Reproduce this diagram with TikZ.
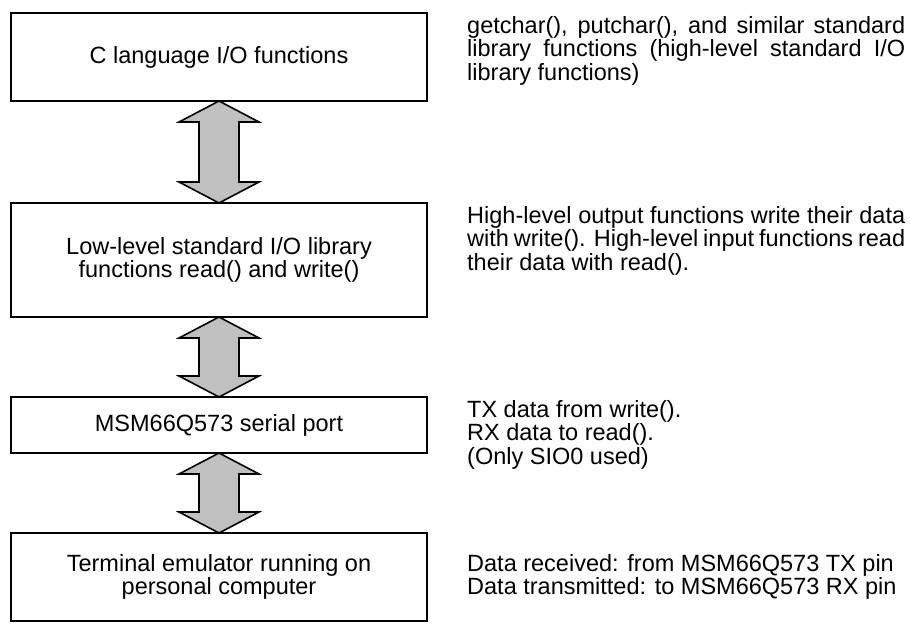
\documentclass[tikz,border=0pt]{standalone}
\usepackage{fontspec}
\setmainfont{Liberation Sans}
\usetikzlibrary{positioning,calc}
\definecolor{arrowgray}{RGB}{192,192,192}
\tikzset{
  layer/.style={draw, line width=1.8pt, minimum width=416pt, align=center, inner sep=0pt, outer sep=0pt},
  note/.style={text width=438pt, align=justify, inner sep=0pt},
  biarrow/.style={draw, line width=1.6pt, fill=arrowgray, line join=miter},
}
\begin{document}
\begin{tikzpicture}[x=1pt, y=-1pt, font=\fontsize{23.5}{23.5}\selectfont]
\useasboundingbox (0,0) rectangle (910,624);
% layers
\node[layer, minimum height=88pt] (clib) at (219,57) {C language I/O functions};
\node[layer, minimum height=114pt] (lowio) at (219,260) {Low-level standard I/O library\\functions read() and write()};
\node[layer, minimum height=56pt] (sport) at (219,425) {MSM66Q573 serial port};
\node[layer, minimum height=88pt] (term) at (219,577) {Terminal emulator running on\\personal computer};
% notes on the right
\node[note, right=40pt of clib.north east, anchor=north west, yshift=-3pt] (cnote) {getchar(), putchar(), and similar standard\linebreak library functions (high-level standard I/O\linebreak library functions)};
\node[note, right=40pt of lowio.north east, anchor=north west, yshift=-3pt] (lnote) {High-level output functions write their data\linebreak with write(). High-level input functions read\linebreak their data with read().};
\node[note, right=40pt of sport.north east, anchor=north west, yshift=-3pt] (snote) {TX data from write().\\RX data to read().\\(Only SIO0 used)};
\node[note, right=40pt of term] (tnote) {Data received: from MSM66Q573 TX pin\\Data transmitted: to MSM66Q573 RX pin};
% double arrows
\draw[biarrow] (clib.south) -- ++(40,21) -- ++(-20,0) -- ($(lowio.north)+(20,-21)$) -- ++(20,0) -- (lowio.north) -- ++(-40,-21) -- ++(20,0) -- ($(clib.south)+(-20,21)$) -- ++(-20,0) -- cycle;
\draw[biarrow] (lowio.south) -- ++(40,21) -- ++(-20,0) -- ($(sport.north)+(20,-21)$) -- ++(20,0) -- (sport.north) -- ++(-40,-21) -- ++(20,0) -- ($(lowio.south)+(-20,21)$) -- ++(-20,0) -- cycle;
\draw[biarrow] (sport.south) -- ++(40,21) -- ++(-20,0) -- ($(term.north)+(20,-21)$) -- ++(20,0) -- (term.north) -- ++(-40,-21) -- ++(20,0) -- ($(sport.south)+(-20,21)$) -- ++(-20,0) -- cycle;
\end{tikzpicture}
\end{document}
